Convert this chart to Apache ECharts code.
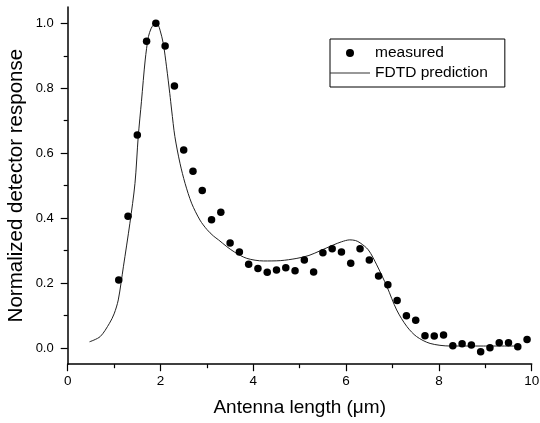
<!DOCTYPE html>
<html><head><meta charset="utf-8">
<script src="https://cdn.jsdelivr.net/npm/echarts@6/dist/echarts.min.js"></script>
<style>html,body{margin:0;padding:0;background:#fff}#c{width:540px;height:423px}</style>
</head><body><div id="c"></div>
<script>
// measured data
const measuredX = [1.1,1.3,1.5,1.7,1.9,2.1,2.3,2.5,2.7,2.9,3.1,3.3,3.5,3.7,3.9,4.1,4.3,4.5,4.7,4.9,5.1,5.3,5.5,5.7,5.9,6.1,6.3,6.5,6.7,6.9,7.1,7.3,7.5,7.7,7.9,8.1,8.3,8.5,8.7,8.9,9.1,9.3,9.5,9.7,9.9];
const measuredY = [0.209,0.406,0.656,0.945,1.0,0.93,0.807,0.61,0.544,0.485,0.395,0.418,0.323,0.296,0.258,0.245,0.233,0.240,0.247,0.238,0.271,0.234,0.293,0.306,0.296,0.261,0.306,0.271,0.222,0.195,0.146,0.099,0.085,0.038,0.037,0.040,0.007,0.013,0.009,-0.012,0.001,0.016,0.016,0.004,0.026];
// FDTD prediction curve
const fdtdX = [0.47,0.7,0.9,1.0,1.09,1.2,1.34,1.45,1.52,1.59,1.67,1.74,1.8,1.85,1.9,1.95,1.99,2.06,2.13,2.2,2.24,2.31,2.42,2.53,2.67,2.85,3.0,3.14,3.25,3.43,3.6,3.86,4.22,4.58,4.94,5.2,5.45,5.72,5.9,6.08,6.2,6.3,6.48,6.66,6.88,7.09,7.31,7.52,7.81,8.24,8.96,9.7];
const fdtdY = [0.019,0.035,0.076,0.105,0.148,0.25,0.384,0.507,0.651,0.76,0.887,0.959,0.985,0.995,1.0,0.995,0.979,0.938,0.866,0.784,0.733,0.651,0.569,0.507,0.446,0.394,0.365,0.345,0.333,0.312,0.295,0.276,0.268,0.269,0.276,0.285,0.300,0.317,0.327,0.333,0.331,0.324,0.302,0.256,0.189,0.117,0.066,0.035,0.014,0.006,0.006,0.006];
// ticks
const yTicks = [0, 0.2, 0.4, 0.6, 0.8, 1.0];
const yMinorTicks = [0.1, 0.3, 0.5, 0.7, 0.9];
const seriesNames = ['measured', 'FDTD prediction'];
const xName = 'Antenna length (\u03bcm)';
const yName = 'Normalized detector response';

const FONT = "'Liberation Sans', Arial, sans-serif";
const chart = echarts.init(document.getElementById('c'), null, {renderer: 'canvas'});
chart.setOption({
  animation: false,
  backgroundColor: '#fff',
  grid: {left: 67.7, right: 8.3, top: 7.1, bottom: 58.8, containLabel: false, outerBoundsMode: 'none'},
  legend: {
    left: 330, top: 39, orient: 'vertical',
    borderColor: '#000', borderWidth: 1, borderRadius: 0,
    padding: [6, 17, 6, 0],
    itemWidth: 40, itemHeight: 8, itemGap: 4,
    textStyle: {fontFamily: FONT, fontSize: 15.5, color: '#000', lineHeight: 16},
    data: [
      {name: seriesNames[0], icon: 'circle', itemStyle: {color: '#000', opacity: 1}},
      {name: seriesNames[1], icon: 'path://M0,0L40,0L40,1L0,1Z', itemStyle: {color: '#333'}}
    ]
  },
  xAxis: {
    type: 'value', min: 0, max: 10, interval: 2,
    name: xName, nameLocation: 'middle', nameGap: 34,
    nameTextStyle: {fontFamily: FONT, fontSize: 19, color: '#000'},
    axisLine: {show: true, onZero: false, lineStyle: {color: '#000', width: 1.5}},
    axisTick: {show: true, inside: false, length: 7, lineStyle: {color: '#000', width: 1.2}},
    minorTick: {show: true, splitNumber: 2, length: 4, lineStyle: {color: '#000', width: 1.2}},
    axisLabel: {fontFamily: FONT, fontSize: 13.5, color: '#000', margin: 10},
    splitLine: {show: false}, minorSplitLine: {show: false}
  },
  yAxis: [{
    type: 'value', min: -0.05, max: 1.05,
    name: yName, nameLocation: 'middle', nameGap: 41, nameMoveOverlap: false,
    nameTextStyle: {fontFamily: FONT, fontSize: 20.5, color: '#000'},
    axisLine: {show: true, onZero: false, lineStyle: {color: '#000', width: 1.5}},
    axisTick: {show: true, inside: false, length: 7, customValues: yTicks, lineStyle: {color: '#000', width: 1.2}},
    axisLabel: {fontFamily: FONT, fontSize: 13, color: '#000', margin: 14, customValues: yTicks,
      formatter: v => v.toFixed(1)},
    splitLine: {show: false}
  }, {
    type: 'value', min: -0.05, max: 1.05, position: 'left',
    axisLine: {show: false},
    axisTick: {show: true, inside: false, length: 4, customValues: yMinorTicks, lineStyle: {color: '#000', width: 1.2}},
    axisLabel: {show: false, customValues: yMinorTicks},
    splitLine: {show: false}
  }],
  series: [{
    name: seriesNames[0], type: 'scatter', yAxisIndex: 0,
    symbol: 'circle', symbolSize: 7.5,
    itemStyle: {color: '#000', opacity: 1},
    data: measuredX.map((x, i) => [x, measuredY[i]]),
    z: 3
  }, {
    name: seriesNames[1], type: 'line', yAxisIndex: 0,
    symbol: 'none', showSymbol: false, smooth: 0.3,
    lineStyle: {color: '#222', width: 1},
    itemStyle: {color: '#222'},
    data: fdtdX.map((x, i) => [x, fdtdY[i]]),
    z: 2
  }]
});
</script>
</body></html>
